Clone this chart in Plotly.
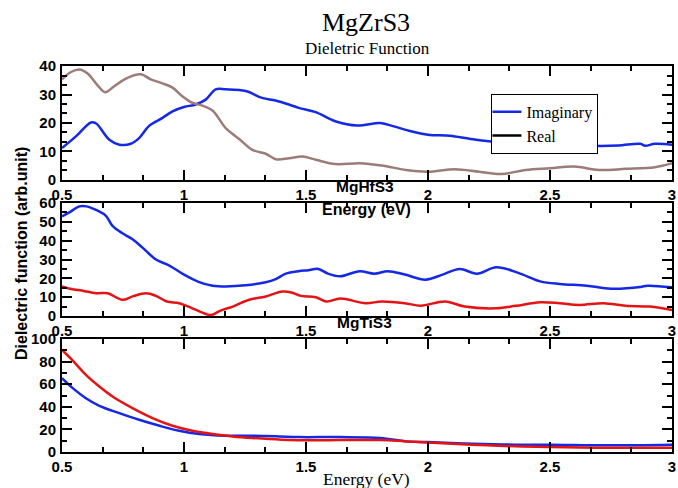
import plotly.graph_objects as go

# ---------------- data ----------------
# MgZrS3
zr_imag_x = [0.5, 0.557, 0.619, 0.64, 0.694, 0.735, 0.782, 0.816, 0.857, 0.912, 0.953, 1.0, 1.048, 1.089,
             1.13, 1.171, 1.253, 1.32, 1.375, 1.43, 1.47, 1.54, 1.62, 1.71, 1.805, 1.86, 1.93, 2.0, 2.09,
             2.175, 2.27, 2.35, 2.40, 2.5, 2.6, 2.68, 2.78, 2.87, 2.89, 2.93, 3.0]
zr_imag_y = [11.2, 15.3, 20.2, 19.8, 14.1, 12.4, 12.7, 14.7, 19.0, 21.8, 24.1, 25.6, 26.5, 28.2,
             31.8, 31.8, 31.2, 28.8, 27.9, 26.5, 25.3, 23.8, 20.6, 19.1, 20.0, 18.8, 17.1, 15.9, 15.5,
             14.4, 13.5, 14.1, 13.2, 12.4, 12.7, 12.0, 12.1, 12.7, 12.0, 12.7, 12.4]
zr_real_x = [0.5, 0.537, 0.571, 0.605, 0.646, 0.677, 0.714, 0.762, 0.823, 0.864, 0.912, 0.953, 0.993,
             1.034, 1.075, 1.117, 1.171, 1.226, 1.28, 1.335, 1.376, 1.43, 1.485, 1.54, 1.62, 1.72, 1.81,
             1.91, 2.0, 2.11, 2.21, 2.30, 2.40, 2.5, 2.6, 2.7, 2.81, 2.93, 3.0]
zr_real_y = [35.3, 37.9, 38.8, 37.4, 33.2, 30.8, 32.9, 35.6, 37.1, 35.3, 33.9, 32.4, 29.4,
             27.1, 26.1, 24.4, 18.2, 14.4, 10.6, 9.2, 7.3, 7.6, 8.2, 7.1, 5.6, 5.9, 5.1,
             3.5, 2.9, 3.8, 2.9, 2.1, 3.5, 4.1, 4.7, 3.5, 3.9, 4.5, 5.9]

# MgHfS3
hf_imag_x = [0.5, 0.53, 0.571, 0.6, 0.646, 0.68, 0.707, 0.748, 0.789, 0.83, 0.885, 0.94, 1.0, 1.062,
             1.117, 1.171, 1.253, 1.335, 1.376, 1.417, 1.47, 1.51, 1.55, 1.59, 1.64, 1.72, 1.78, 1.835,
             1.905, 1.99, 2.06, 2.13, 2.2, 2.28, 2.37, 2.46, 2.54, 2.65, 2.75, 2.87, 2.9, 3.0]
hf_imag_y = [52.9, 55.0, 58.2, 58.2, 55.9, 53.2, 47.9, 43.9, 40.7, 36.3, 30.0, 26.8, 22.0, 18.0,
             16.1, 15.7, 16.3, 17.9, 19.6, 22.5, 23.8, 24.3, 25.0, 22.5, 21.1, 23.8, 22.5, 23.8,
             22.0, 19.3, 22.0, 25.0, 22.5, 25.9, 22.9, 18.4, 17.0, 16.1, 14.5, 15.4, 16.1, 15.2]
hf_real_x = [0.5, 0.537, 0.585, 0.64, 0.687, 0.748, 0.789, 0.844, 0.885, 0.93, 0.98, 1.034, 1.075,
             1.11, 1.15, 1.2, 1.267, 1.335, 1.403, 1.44, 1.48, 1.54, 1.585, 1.64, 1.745, 1.81, 1.905,
             1.97, 2.07, 2.15, 2.28, 2.36, 2.46, 2.54, 2.62, 2.72, 2.81, 2.91, 3.0]
hf_real_y = [15.7, 14.3, 13.4, 12.1, 12.1, 8.6, 10.4, 12.1, 10.7, 7.7, 6.8, 4.1, 1.8,
             0.5, 2.9, 5.0, 8.6, 10.4, 13.0, 12.5, 10.7, 10.0, 7.7, 9.3, 6.8, 7.7, 6.8,
             5.5, 7.7, 5.0, 4.1, 5.4, 7.3, 6.8, 5.9, 6.8, 5.4, 5.0, 3.2]

# MgTiS3
ti_imag_x = [0.5, 0.544, 0.598, 0.653, 0.735, 0.816, 0.9, 0.98, 1.062, 1.17, 1.28, 1.39, 1.47, 1.64,
             1.805, 1.91, 2.0, 2.18, 2.36, 2.5, 2.73, 3.0]
ti_imag_y = [65.3, 56.5, 47.6, 40.9, 34.4, 28.5, 23.2, 18.8, 15.9, 14.4, 14.4, 13.8, 13.2, 13.2,
             12.4, 9.4, 8.8, 7.4, 6.5, 6.5, 5.9, 6.5]
ti_real_x = [0.5, 0.544, 0.598, 0.653, 0.707, 0.789, 0.871, 0.953, 1.034, 1.117, 1.2, 1.28, 1.4, 1.54,
             1.64, 1.805, 1.91, 2.0, 2.18, 2.36, 2.5, 2.73, 3.0]
ti_real_y = [90.3, 80.9, 68.2, 57.9, 49.1, 38.8, 30.0, 23.2, 18.8, 15.9, 13.8, 12.4, 10.9, 10.3,
             10.6, 10.6, 9.4, 8.5, 6.5, 5.0, 4.4, 3.8, 3.8]

x_ticks = [0.5, 1, 1.5, 2, 2.5, 3]
x_ticklabels = ["0.5", "1", "1.5", "2", "2.5", "3"]

BLUE = "#1428e6"
BROWN = "#9c7c78"
RED = "#e41414"

fig = go.Figure()

line_kw = dict(mode="lines", showlegend=False, line_shape="spline")
fig.add_trace(go.Scatter(x=zr_imag_x, y=zr_imag_y, line=dict(color=BLUE, width=2.5), xaxis="x", yaxis="y", **line_kw))
fig.add_trace(go.Scatter(x=zr_real_x, y=zr_real_y, line=dict(color=BROWN, width=2.5), xaxis="x", yaxis="y", **line_kw))
fig.add_trace(go.Scatter(x=hf_imag_x, y=hf_imag_y, line=dict(color=BLUE, width=2.5), xaxis="x2", yaxis="y2", **line_kw))
fig.add_trace(go.Scatter(x=hf_real_x, y=hf_real_y, line=dict(color=RED, width=2.5), xaxis="x2", yaxis="y2", **line_kw))
fig.add_trace(go.Scatter(x=ti_imag_x, y=ti_imag_y, line=dict(color=BLUE, width=2.5), xaxis="x3", yaxis="y3", **line_kw))
fig.add_trace(go.Scatter(x=ti_real_x, y=ti_real_y, line=dict(color=RED, width=2.5), xaxis="x3", yaxis="y3", **line_kw))

# legend entries
fig.add_trace(go.Scatter(x=[None], y=[None], mode="lines", name="Imaginary",
                         line=dict(color=BLUE, width=2.5), xaxis="x", yaxis="y"))
fig.add_trace(go.Scatter(x=[None], y=[None], mode="lines", name="Real",
                         line=dict(color="black", width=2.5), xaxis="x", yaxis="y"))

tickfont = dict(family="Liberation Sans, Arial", size=15, color="black", weight="bold")

def xaxis(anchor):
    return dict(range=[0.5, 3], anchor=anchor, tickvals=x_ticks, ticktext=x_ticklabels,
                ticks="inside", ticklen=10, tickwidth=2, tickcolor="black",
                showline=True, linecolor="black", linewidth=2, mirror="allticks",
                showgrid=False, zeroline=False, tickfont=tickfont, ticklabelstandoff=0,
                minor=dict(dtick=1/6, tick0=0.5, ticks="inside", ticklen=5, tickwidth=2,
                           tickcolor="black", showgrid=False))

def yaxis(anchor, rng, dtick, mdtick, dom):
    return dict(range=rng, anchor=anchor, domain=dom, dtick=dtick, tick0=0,
                ticks="inside", ticklen=10, tickwidth=2, tickcolor="black",
                showline=True, linecolor="black", linewidth=2, mirror="allticks",
                showgrid=False, zeroline=False, tickfont=tickfont, ticklabelstandoff=1,
                minor=dict(dtick=mdtick, tick0=0, ticks="inside", ticklen=5, tickwidth=2,
                           tickcolor="black", showgrid=False))

fig.update_layout(
    width=678, height=488,
    margin=dict(l=62, r=6, t=66, b=36, autoexpand=False),
    paper_bgcolor="white", plot_bgcolor="white",
    xaxis=xaxis("y"), xaxis2=xaxis("y2"), xaxis3=xaxis("y3"),
    yaxis=yaxis("x", [0, 40], 10, 10/3, [0.7047, 1.0]),
    yaxis2=yaxis("x2", [0, 60], 10, 5, [0.3523, 0.6451]),
    yaxis3=yaxis("x3", [0, 100], 20, 10, [0.0, 0.2927]),
    showlegend=True,
    legend=dict(x=0.704, y=0.928, xanchor="left", yanchor="top",
                bordercolor="black", borderwidth=1, bgcolor="white",
                font=dict(family="Liberation Serif", size=16, color="black"),
                tracegroupgap=0, itemwidth=30, indentation=-6),
)

serif = "Liberation Serif, Times New Roman"
sans = "Liberation Sans, Arial"
ann = [
    dict(text="MgZrS3", x=366, y=22, font=dict(family=serif, size=26)),
    dict(text="Dieletric Function", x=367, y=48, font=dict(family=serif, size=17)),
    dict(text="<b>MgHfS3</b>", x=365, y=186, font=dict(family=sans, size=15.5)),
    dict(text="<b>Energy (eV)</b>", x=366, y=209, font=dict(family=sans, size=16)),
    dict(text="<b>MgTiS3</b>", x=364, y=322, font=dict(family=sans, size=15.5)),
    dict(text="Energy (eV)", x=366, y=479, font=dict(family=serif, size=17.5)),
]
annotations = []
for a in ann:
    annotations.append(dict(text=a["text"], xref="paper", yref="paper",
                            x=(a["x"] - 62) / 610, y=(452 - a["y"]) / 386,
                            xanchor="center", yanchor="middle", showarrow=False,
                            font=dict(color="black", **a["font"])))
annotations.append(dict(text="<b>Dielectric function (arb.unit)</b>", xref="paper", yref="paper",
                        x=(22 - 62) / 610, y=(452 - 254) / 386, xanchor="center", yanchor="middle",
                        textangle=-90, showarrow=False,
                        font=dict(family=sans, size=16, color="black")))
fig.update_layout(annotations=annotations)

fig.write_html("out.html", config={"displayModeBar": False},
               post_script="document.body.style.margin='0';document.body.style.overflow='hidden';")
